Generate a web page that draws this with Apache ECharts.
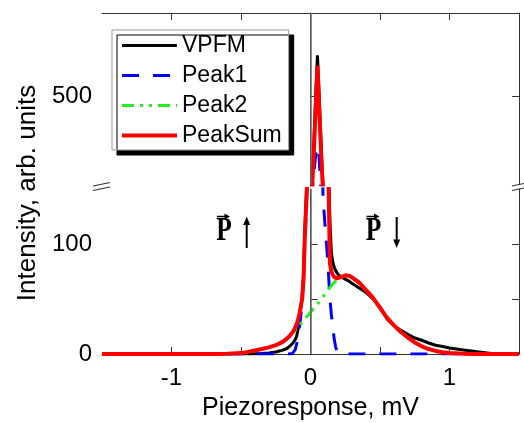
<!DOCTYPE html>
<html>
<head>
<meta charset="utf-8">
<title>VPFM histogram</title>
<script src="https://cdn.jsdelivr.net/npm/echarts@6/dist/echarts.min.js"></script>
<style>
  html, body { margin: 0; padding: 0; background: #fff; }
  #chart { width: 524px; height: 423px; }
</style>
</head>
<body>
<div id="chart"></div>
<script>
// piezoresponse, mV
var xValues = [-1.5, -1.0, -0.7, -0.6, -0.5, -0.45, -0.4, -0.35, -0.3, -0.25,
  -0.2, -0.17, -0.15, -0.13, -0.12, -0.11, -0.1, -0.09, -0.08, -0.07,
  -0.06, -0.05, -0.04, -0.03, -0.02, -0.01, 0, 0.01, 0.02, 0.03,
  0.04, 0.05, 0.06, 0.07, 0.08, 0.09, 0.1, 0.11, 0.12, 0.13,
  0.14, 0.15, 0.16, 0.17, 0.18, 0.19, 0.2, 0.22, 0.25, 0.28,
  0.3, 0.35, 0.4, 0.45, 0.5, 0.55, 0.6, 0.65, 0.7, 0.75,
  0.8, 0.85, 0.9, 0.95, 1.0, 1.1, 1.2, 1.3, 1.4, 1.5];

var vpfm = [0, 0, 0, 0, 0, 0, 0.2, 0.5, 1, 1.8,
  3.5, 5, 7, 9.5, 11, 13, 16, 22, 32, 42,
  52, 72, 115, 145, 178, 218, 258, 300, 360, 440,
  520, 594, 520, 440, 360, 300, 262, 230, 198, 165,
  120, 92, 84, 79, 76, 74, 72, 70, 68, 66,
  64, 60, 56, 50, 43, 32, 26, 21.5, 18, 14.5,
  12.5, 10, 8, 6.8, 5.5, 3.6, 2, 0.5, 0, 0];

var peak1 = [0, 0, 0, 0, 0, 0, 0, 0, 0, 0,
  0, 0, 0, 0.5, 1.5, 4, 9, 15, 24, 34,
  48, 70, 100, 135, 170, 205, 240, 275, 310, 345,
  375, 387, 370, 320, 230, 142, 125, 108, 92, 72,
  50, 36, 25, 14, 7, 2.5, 0.5, 0, 0, 0,
  0, 0, 0, 0, 0, 0, 0, 0, 0, 0,
  0, 0, 0, 0, 0, 0, 0, 0, 0, 0];

var peak2 = [0, 0, 0, 0.3, 0.8, 1.8, 3.2, 4.6, 6, 8,
  11, 13.5, 16, 18.5, 20, 21.5, 23, 24.5, 26, 27.5,
  29, 30.5, 32, 33.5, 35, 36.5, 38, 39.5, 41, 42.5,
  44, 45.5, 47, 48.5, 50, 52, 54, 55.5, 57, 59,
  60.5, 62, 63.5, 65, 66, 67, 68, 69.5, 71, 71,
  69.5, 65, 58, 51, 42, 33, 26, 20, 15, 10.5,
  7, 4.5, 2.8, 1.6, 0.9, 0.2, 0, 0, 0, 0];

var peakSum = [0, 0, 0, 0.3, 0.8, 1.8, 3.2, 4.6, 6, 8,
  11, 14, 16.5, 19.5, 21.5, 24, 27, 31, 36, 43,
  50, 68, 110, 138, 170, 210, 248, 285, 345, 420,
  495, 570, 495, 420, 345, 287, 253, 220, 187, 153,
  82, 75, 72, 70, 69, 68.8, 69, 70, 71.5, 71,
  69.5, 65, 58, 51, 42, 33, 26, 20, 15, 10.5,
  7, 4.5, 2.8, 1.6, 0.9, 0.2, 0, 0, 0, 0];

var xTicks = [-1, -0.5, 0, 0.5, 1];
var xTickLabels = [-1, 0, 1];
var upperTicks = [500];
var lowerTicks = [0, 50, 100];
var lowerTickLabels = [0, 100];

function pairs(ys) {
  return xValues.map(function (x, i) { return [x, ys[i]]; });
}

var axisColor = '#333';
var font = 'Liberation Sans';

var chart = echarts.init(document.getElementById('chart'));

var curves = [
  { name: 'VPFM', data: vpfm, color: '#000000', width: 3, type: 'solid' },
  { name: 'Peak1', data: peak1, color: '#0000ff', width: 3, type: [17, 14] },
  { name: 'Peak2', data: peak2, color: '#22ee22', width: 3, type: [12, 6, 3, 6, 3, 6] },
  { name: 'PeakSum', data: peakSum, color: '#ff0000', width: 4, type: 'solid' }
];

var series = [];
[0, 1].forEach(function (g) {
  curves.forEach(function (c, k) {
    var s = {
      name: c.name,
      type: 'line',
      xAxisIndex: g,
      yAxisIndex: g * 2,
      data: pairs(c.data),
      symbol: 'none',
      clip: true,
      lineStyle: { color: c.color, width: c.width, type: c.type },
      itemStyle: { color: c.color }
    };
    if (k === 0) {
      s.markLine = {
        silent: true,
        symbol: 'none',
        label: { show: false },
        lineStyle: { color: '#666', width: 1.5, type: 'solid' },
        data: [{ xAxis: 0 }]
      };
    }
    series.push(s);
  });
});

function yAx(grid, min, max, pos, ticks, labels) {
  return {
    type: 'value', gridIndex: grid, min: min, max: max, position: pos,
    axisLine: { show: true, lineStyle: { color: axisColor, width: 1 } },
    axisTick: { show: true, inside: true, length: 7, customValues: ticks, lineStyle: { color: axisColor } },
    axisLabel: labels ? { show: true, customValues: labels, margin: 10, fontSize: 24, fontFamily: font, color: '#000' } : { show: false },
    splitLine: { show: false }
  };
}

chart.setOption({
  animation: false,
  grid: [
    { left: 102, right: 5, top: 13, height: 171.5 },
    { left: 102, right: 5, top: 189, bottom: 69 }
  ],
  legend: {
    orient: 'vertical', left: 112, top: 30,
    itemWidth: 55, itemHeight: 14, itemGap: 7,
    padding: [4, 7, 3, 8],
    backgroundColor: '#fff', borderColor: '#999', borderWidth: 1,
    shadowColor: '#000', shadowOffsetX: 5, shadowOffsetY: 5, shadowBlur: 0,
    lineStyle: { width: 'inherit' },
    itemStyle: { opacity: 0 },
    textStyle: { fontSize: 23, fontFamily: font, color: '#000' },
    data: ['VPFM', 'Peak1', 'Peak2', 'PeakSum']
  },
  xAxis: [
    {
      type: 'value', gridIndex: 0, min: -1.5, max: 1.5, position: 'top',
      axisLine: { show: true, onZero: false, lineStyle: { color: axisColor, width: 1 } },
      axisTick: { show: true, inside: true, length: 7, customValues: xTicks, lineStyle: { color: axisColor } },
      axisLabel: { show: false },
      splitLine: { show: false }
    },
    {
      type: 'value', gridIndex: 1, min: -1.5, max: 1.5, position: 'bottom',
      axisLine: { show: true, onZero: false, lineStyle: { color: axisColor, width: 1 } },
      axisTick: { show: true, inside: true, length: 7, customValues: xTicks, lineStyle: { color: axisColor } },
      axisLabel: { show: true, customValues: xTickLabels, margin: 12, fontSize: 24, fontFamily: font, color: '#000' },
      splitLine: { show: false },
      name: 'Piezoresponse, mV', nameLocation: 'middle', nameGap: 42,
      nameTextStyle: { fontSize: 25, fontFamily: font, color: '#000' }
    }
  ],
  yAxis: [
    yAx(0, 300, 690, 'left', upperTicks, upperTicks),
    yAx(0, 300, 690, 'right', upperTicks, null),
    yAx(1, 0, 150, 'left', lowerTicks, lowerTickLabels),
    yAx(1, 0, 150, 'right', lowerTicks, null)
  ],
  graphic: [
    {
      type: 'text', x: 28, y: 193, rotation: Math.PI / 2,
      style: { text: 'Intensity, arb. units', font: '26px "Liberation Sans"', fill: '#000', align: 'center', verticalAlign: 'middle' }
    },
    // axis break marks
    { type: 'line', shape: { x1: 93, y1: 186, x2: 110, y2: 182.5 }, style: { stroke: '#333', lineWidth: 1.2 } },
    { type: 'line', shape: { x1: 93, y1: 190.5, x2: 110, y2: 187 }, style: { stroke: '#333', lineWidth: 1.2 } },
    { type: 'line', shape: { x1: 512, y1: 186, x2: 524, y2: 183.5 }, style: { stroke: '#333', lineWidth: 1.2 } },
    { type: 'line', shape: { x1: 512, y1: 190.5, x2: 524, y2: 188 }, style: { stroke: '#333', lineWidth: 1.2 } },
    // P up
    { type: 'text', x: 224, y: 248, scaleX: 0.75, style: { text: 'P', font: 'bold 34px "Liberation Serif"', fill: '#000', align: 'center', verticalAlign: 'bottom' } },
    { type: 'line', shape: { x1: 217, y1: 216.5, x2: 226, y2: 216.5 }, style: { stroke: '#000', lineWidth: 1.5 } },
    { type: 'polygon', shape: { points: [[230, 216.5], [224.5, 213.5], [224.5, 219.5]] }, style: { fill: '#000' } },
    { type: 'line', shape: { x1: 246.7, y1: 248, x2: 246.7, y2: 223 }, style: { stroke: '#000', lineWidth: 2 } },
    { type: 'polygon', shape: { points: [[246.7, 216.5], [243.2, 225], [250.2, 225]] }, style: { fill: '#000' } },
    // P down
    { type: 'text', x: 373.5, y: 248, scaleX: 0.75, style: { text: 'P', font: 'bold 34px "Liberation Serif"', fill: '#000', align: 'center', verticalAlign: 'bottom' } },
    { type: 'line', shape: { x1: 366.5, y1: 216.5, x2: 375.5, y2: 216.5 }, style: { stroke: '#000', lineWidth: 1.5 } },
    { type: 'polygon', shape: { points: [[379.5, 216.5], [374, 213.5], [374, 219.5]] }, style: { fill: '#000' } },
    { type: 'line', shape: { x1: 396.7, y1: 217, x2: 396.7, y2: 241 }, style: { stroke: '#000', lineWidth: 2 } },
    { type: 'polygon', shape: { points: [[396.7, 248], [393.2, 239.5], [400.2, 239.5]] }, style: { fill: '#000' } }
  ],
  series: series
});
</script>
</body>
</html>
